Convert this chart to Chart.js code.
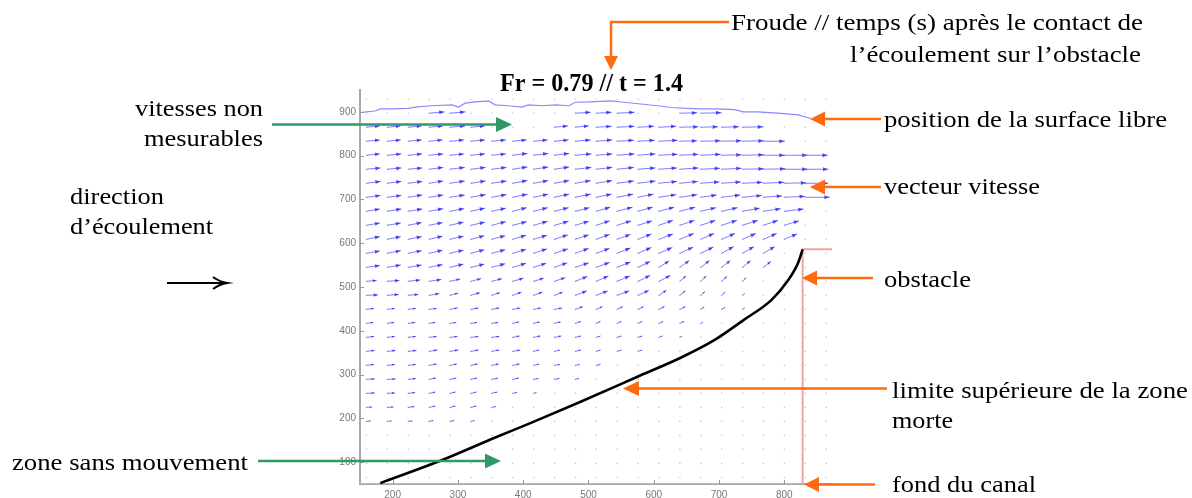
<!DOCTYPE html>
<html><head><meta charset="utf-8">
<script src="https://cdn.jsdelivr.net/npm/chart.js@4/dist/chart.umd.min.js"></script>
<style>html,body{margin:0;padding:0;background:#fff;}canvas{display:block;}</style>
</head><body>
<canvas id="c" width="1192" height="498"></canvas>
<script>
// ---- axis ticks ----
const xTicks = [200, 300, 400, 500, 600, 700, 800];
const yTicks = [100, 200, 300, 400, 500, 600, 700, 800, 900];

// ---- measurement grid (PIV) ----
const colsX = [160, 192, 224, 256, 288, 320, 352, 384, 416, 448, 480, 512, 544, 576, 608, 640, 672, 704, 736, 768, 800, 832, 864];
const rowsY = [897, 865, 833, 801, 769, 737, 705, 673, 641, 609, 577, 545, 513, 481, 449, 417, 385, 353, 321, 289, 257, 225, 193, 161, 129, 97, 65];
const dotX = [128, 160, 192, 224, 256, 288, 320, 352, 384, 416, 448, 480, 512, 544, 576, 608, 640, 672, 704, 736, 768, 800, 832, 864];
const dotY = [961, 929, 897, 865, 833, 801, 769, 737, 705, 673, 641, 609, 577, 545, 513, 481, 449, 417, 385, 353, 321, 289, 257, 225, 193, 161, 129, 97, 65];

// velocity components (display units), one row per rowsY entry
const uRows = [
 [0,0,0,23,23,0,0,0,0,0,23,23,26,0,0,26,31,0,0,0,0,0,0],
 [20,20,20,21,23,21,0,0,0,20,20,23,26,24,26,28,26,26,31,0,0,0,0],
 [20,20,20,20,21,21,21,21,21,21,23,24,25,25,28,26,30,30,32,32,0,0,0],
 [20,21,21,21,21,21,21,22,22,22,24,24,26,26,28,28,30,30,32,32,35,34,0],
 [21,21,21,21,22,22,22,22,22,22,24,24,25,26,27,28,29,30,32,33,35,35,0],
 [21,21,21,21,22,22,22,22,22,22,23,24,25,26,27,27,28,29,30,31,33,35,0],
 [21,21,21,21,22,22,22,22,22,22,23,23,24,23,26,26,24,28,29,28,31,37,0],
 [20,21,21,21,21,21,21,21,21,21,21,21,23,22,23,23,23,24,26,26,29,0,0],
 [20,20,20,20,20,21,21,21,21,21,20,20,21,21,21,22,22,23,23,22,22,0,0],
 [20,20,20,20,20,20,20,20,20,20,20,20,20,20,21,21,20,20,20,20,19,0,0],
 [20,20,20,20,20,20,20,20,20,20,20,20,20,20,20,20,19,18,17,17,0,0,0],
 [20,20,20,20,20,20,20,20,19,19,20,20,20,18,15,14,13,13,12,11,0,0,0],
 [15,18,18,18,15,15,15,16,15,16,18,18,19,18,17,9,8,8,5,0,0,0,0],
 [17,17,15,15,12,13,12,13,13,12,17,17,18,16,11,8,6,5,3,0,0,0,0],
 [11,11,11,11,11,11,11,11,11,11,11,9,8,8,8,8,5,5,3,0,0,0,0],
 [10,10,10,9,9,9,9,9,9,9,8,6,6,6,6,6,3,0,0,0,0,0,0],
 [11,11,11,11,11,11,11,10,10,10,8,6,6,6,5,3,0,0,0,0,0,0,0],
 [12,12,12,12,12,11,11,11,8,8,8,6,6,6,0,0,0,0,0,0,0,0,0],
 [11,11,11,11,10,10,10,10,8,8,6,6,0,0,0,0,0,0,0,0,0,0,0],
 [12,12,11,10,9,9,9,9,7,7,5,0,0,0,0,0,0,0,0,0,0,0,0],
 [12,11,10,9,8,8,8,6,4,0,0,0,0,0,0,0,0,0,0,0,0,0,0],
 [8,9,9,9,8,8,6,0,0,0,0,0,0,0,0,0,0,0,0,0,0,0,0],
 [6,6,6,6,6,5,0,0,0,0,0,0,0,0,0,0,0,0,0,0,0,0,0],
 [0,0,0,0,0,0,0,0,0,0,0,0,0,0,0,0,0,0,0,0,0,0,0],
 [0,0,0,0,0,0,0,0,0,0,0,0,0,0,0,0,0,0,0,0,0,0,0],
 [0,0,0,0,0,0,0,0,0,0,0,0,0,0,0,0,0,0,0,0,0,0,0],
 [0,0,0,0,0,0,0,0,0,0,0,0,0,0,0,0,0,0,0,0,0,0,0]
];
const vRows = [
 [0,0,0,3,3,0,0,0,0,0,2,2,2,0,0,1,1,0,0,0,0,0,0],
 [3,3,3,3,3,3,0,0,0,3,3,2,2,2,2,1,1,1,1,0,0,0,0],
 [3,3,3,3,3,3,3,3,3,3,3,3,2,2,2,1,1,1,1,0,0,0,0],
 [3,3,3,3,3,3,3,4,4,4,3,3,3,3,2,2,2,1,1,0,0,0,0],
 [3,3,3,4,4,4,4,5,5,5,4,4,4,3,3,3,2,2,1,1,0,0,0],
 [4,4,4,5,5,5,5,6,6,6,6,6,5,5,4,4,3,3,2,2,1,0,0],
 [4,4,5,5,5,6,6,7,7,7,7,7,7,7,6,6,5,5,4,3,2,0,0],
 [5,5,5,6,6,7,7,8,8,8,8,9,9,9,9,9,8,8,7,6,5,0,0],
 [5,5,6,6,7,7,8,8,9,9,9,10,10,10,11,11,11,11,11,11,10,0,0],
 [6,6,6,7,7,8,8,9,9,10,10,11,11,12,12,13,13,13,13,13,12,0,0],
 [5,6,6,7,7,8,8,9,10,10,11,11,12,13,13,14,14,15,15,15,0,0,0],
 [4,5,5,6,7,7,8,9,9,10,10,11,12,13,14,15,15,15,15,13,0,0,0],
 [2,2,3,4,5,6,6,7,7,8,11,12,12,13,13,12,12,11,8,0,0,0,0],
 [1,2,2,4,5,6,6,7,7,7,10,10,10,11,11,10,8,7,4,0,0,0,0],
 [2,2,2,2,3,3,3,3,3,3,6,6,6,6,6,6,5,4,3,0,0,0,0],
 [2,2,2,2,2,2,2,3,3,3,4,4,4,4,4,4,2,0,0,0,0,0,0],
 [2,2,2,2,2,2,2,3,3,3,3,3,3,3,3,2,0,0,0,0,0,0,0],
 [2,2,2,3,3,3,3,3,3,3,3,3,3,3,0,0,0,0,0,0,0,0,0],
 [2,2,2,3,3,3,3,3,3,2,2,2,0,0,0,0,0,0,0,0,0,0,0],
 [1,1,2,3,3,3,3,3,2,2,2,0,0,0,0,0,0,0,0,0,0,0,0],
 [1,1,2,3,3,3,3,2,2,0,0,0,0,0,0,0,0,0,0,0,0,0,0],
 [1,1,2,3,3,3,2,0,0,0,0,0,0,0,0,0,0,0,0,0,0,0,0],
 [1,1,1,2,2,2,0,0,0,0,0,0,0,0,0,0,0,0,0,0,0,0,0],
 [0,0,0,0,0,0,0,0,0,0,0,0,0,0,0,0,0,0,0,0,0,0,0],
 [0,0,0,0,0,0,0,0,0,0,0,0,0,0,0,0,0,0,0,0,0,0,0],
 [0,0,0,0,0,0,0,0,0,0,0,0,0,0,0,0,0,0,0,0,0,0,0],
 [0,0,0,0,0,0,0,0,0,0,0,0,0,0,0,0,0,0,0,0,0,0,0]
];

// ---- free surface ----
const surfaceX = [153, 173, 181, 199, 224, 235, 260, 291, 301, 311, 327, 347, 357, 377, 398, 408, 429, 450, 470, 480, 503, 534, 554, 580, 606, 626, 652, 673, 698, 723, 738, 759, 790, 821, 841];
const surfaceY = [899, 902, 907, 907, 908, 911, 914, 916, 911, 920, 923, 925, 916, 914, 911, 916, 914, 916, 914, 922, 923, 925, 922, 918, 914, 910, 908, 907, 907, 905, 900, 900, 897, 893, 885];

// ---- upper limit of the dead zone ----
const limitX = [181, 273, 360, 411, 488, 575, 642, 692, 738, 780, 806, 821, 828];
const limitY = [52, 103, 158, 189, 238, 295, 339, 378, 425, 470, 516, 555, 586];

// ---- obstacle and channel bottom ----
const obstacleX = [150, 828, 828, 873];
const obstacleY = [50, 50, 586, 586];

const titleText = 'Fr = 0.79 // t = 1.4';

const toPts = (xs, ys) => xs.map((v, i) => ({x: v, y: ys[i]}));
const dotPts = [];
dotY.forEach(yv => dotX.forEach(xv => dotPts.push({x: xv, y: yv})));

// ---- plugins ----
const quiverPlugin = {
  id: 'quiver',
  beforeDatasetsDraw(chart) {
    const {ctx} = chart; const xs = chart.scales.x, ys = chart.scales.y;
    ctx.save();
    ctx.lineWidth = 1;
    ctx.lineCap = 'round';
    for (let j = 0; j < rowsY.length; j++) {
      for (let i = 0; i < colsX.length; i++) {
        const u = uRows[j][i], v = vRows[j][i];
        if (!u && !v) continue;
        const x0 = xs.getPixelForValue(colsX[i]), y0 = ys.getPixelForValue(rowsY[j]);
        const x1 = xs.getPixelForValue(colsX[i] + u), y1 = ys.getPixelForValue(rowsY[j] + v);
        const a = Math.atan2(y1 - y0, x1 - x0), L = Math.hypot(x1 - x0, y1 - y0);
        const h = Math.min(5, 0.35 * L), w = Math.min(2, 0.15 * L);
        const bx = x1 - h * Math.cos(a), by = y1 - h * Math.sin(a);
        ctx.strokeStyle = 'rgba(70,70,255,0.7)';
        ctx.beginPath(); ctx.moveTo(x0, y0); ctx.lineTo(x1, y1); ctx.stroke();
        ctx.fillStyle = 'rgba(40,40,240,0.8)';
        ctx.beginPath();
        ctx.moveTo(x1, y1);
        ctx.lineTo(bx + w * Math.sin(a), by - w * Math.cos(a));
        ctx.lineTo(bx - w * Math.sin(a), by + w * Math.cos(a));
        ctx.closePath(); ctx.fill();
      }
    }
    ctx.restore();
  }
};

function fitText(ctx, str, x, base, width, size, bold) {
  ctx.font = (bold ? 'bold ' : '') + size + 'px "Liberation Serif", "Times New Roman", serif';
  const w = ctx.measureText(str).width;
  ctx.save();
  ctx.translate(x, base);
  ctx.scale(width / w, 1);
  ctx.textBaseline = 'alphabetic';
  ctx.textAlign = 'left';
  ctx.fillStyle = '#000';
  ctx.fillText(str, 0, 0);
  ctx.restore();
}
function arrow(ctx, pts, color, lw, hl, hw) {
  const n = pts.length, tip = pts[n - 1], prev = pts[n - 2];
  const a = Math.atan2(tip[1] - prev[1], tip[0] - prev[0]);
  const bx = tip[0] - hl * Math.cos(a), by = tip[1] - hl * Math.sin(a);
  ctx.save();
  ctx.strokeStyle = color; ctx.fillStyle = color; ctx.lineWidth = lw;
  ctx.beginPath(); ctx.moveTo(pts[0][0], pts[0][1]);
  for (let k = 1; k < n - 1; k++) ctx.lineTo(pts[k][0], pts[k][1]);
  ctx.lineTo(bx, by); ctx.stroke();
  ctx.beginPath();
  ctx.moveTo(tip[0], tip[1]);
  ctx.lineTo(bx + hw * Math.sin(a), by - hw * Math.cos(a));
  ctx.lineTo(bx - hw * Math.sin(a), by + hw * Math.cos(a));
  ctx.closePath(); ctx.fill();
  ctx.restore();
}

const annotPlugin = {
  id: 'annot',
  afterDraw(chart) {
    const {ctx} = chart; const xs = chart.scales.x, ys = chart.scales.y;
    const ca = chart.chartArea;
    // inward tick marks
    ctx.save();
    ctx.strokeStyle = '#999'; ctx.lineWidth = 1;
    yTicks.forEach(t => { const p = Math.round(ys.getPixelForValue(t)) + 0.5; ctx.beginPath(); ctx.moveTo(ca.left, p); ctx.lineTo(ca.left + 4, p); ctx.stroke(); });
    xTicks.forEach(t => { const p = Math.round(xs.getPixelForValue(t)) + 0.5; ctx.beginPath(); ctx.moveTo(p, ca.bottom); ctx.lineTo(p, ca.bottom - 4); ctx.stroke(); });
    ctx.restore();

    // title
    fitText(ctx, titleText, 500, 91, 183, 25, true);

    // texts
    fitText(ctx, 'Froude // temps (s) après le contact de', 731, 30, 412, 23);
    fitText(ctx, 'l\u2019écoulement sur l\u2019obstacle', 850, 62, 291, 23);
    fitText(ctx, 'vitesses non', 135, 116, 128, 23);
    fitText(ctx, 'mesurables', 144, 146, 119, 23);
    fitText(ctx, 'direction', 70, 204, 94, 23);
    fitText(ctx, 'd\u2019écoulement', 70, 234, 143, 23);
    fitText(ctx, 'position de la surface libre', 884, 127, 283, 23);
    fitText(ctx, 'vecteur vitesse', 884, 194, 156, 23);
    fitText(ctx, 'obstacle', 884, 287, 87, 23);
    fitText(ctx, 'limite supérieure de la zone', 892, 398, 296, 23);
    fitText(ctx, 'morte', 892, 428, 61, 23);
    fitText(ctx, 'fond du canal', 892, 492, 144, 23);
    fitText(ctx, 'zone sans mouvement', 12, 470, 236, 23);

    const OR = '#ff6a10', GR = '#2f9a66';
    arrow(ctx, [[729, 22], [611, 22], [611, 70]], OR, 2.5, 14, 7);
    arrow(ctx, [[881, 119], [810, 119]], OR, 2.5, 15, 7.5);
    arrow(ctx, [[881, 187], [810, 187]], OR, 2.5, 15, 7.5);
    arrow(ctx, [[873, 278], [802, 278]], OR, 2.5, 15, 7.5);
    arrow(ctx, [[887, 388.5], [623, 388.5]], OR, 2.5, 16, 7.5);
    arrow(ctx, [[875, 484.5], [804, 484.5]], OR, 2.5, 15, 7.5);
    arrow(ctx, [[272, 124.5], [512, 124.5]], GR, 2.5, 16, 7.5);
    arrow(ctx, [[258, 461], [501, 461]], GR, 2.5, 16, 7.5);

    // black flow-direction arrow
    ctx.save();
    ctx.strokeStyle = '#000'; ctx.lineWidth = 2;
    ctx.beginPath(); ctx.moveTo(167, 283); ctx.lineTo(225, 283); ctx.stroke();
    ctx.beginPath(); ctx.moveTo(213, 277); ctx.quadraticCurveTo(220, 282, 227, 283); ctx.quadraticCurveTo(220, 284, 213, 289); ctx.stroke();
    ctx.restore();
  }
};

new Chart(document.getElementById('c'), {
  type: 'scatter',
  data: {
    datasets: [
      {label: 'grille', data: dotPts, pointRadius: 0.8, pointBorderWidth: 0, pointBackgroundColor: 'rgba(120,120,255,0.45)', clip: false, order: 5},
      {label: 'surface libre', data: toPts(surfaceX, surfaceY), showLine: true, borderColor: '#8a8aff', borderWidth: 1.2, pointRadius: 0, order: 3},
      {label: 'obstacle', data: toPts(obstacleX, obstacleY), showLine: true, borderColor: '#f4a4a4', borderWidth: 2, pointRadius: 0, order: 2},
      {label: 'zone morte', data: toPts(limitX, limitY), showLine: true, cubicInterpolationMode: 'monotone', borderColor: '#000', borderWidth: 2.6, pointRadius: 0, order: 1}
    ]
  },
  options: {
    responsive: false, animation: false, devicePixelRatio: 1,
    layout: {padding: {left: 0, top: 90, right: 360, bottom: 0}},
    plugins: {legend: {display: false}, title: {display: false}, tooltip: {enabled: false}},
    scales: {
      x: {
        type: 'linear', min: 150, max: 873,
        grid: {display: false, drawTicks: false},
        border: {display: true, color: '#a8a8a8', width: 2},
        ticks: {color: '#777', font: {family: '"Liberation Sans", Arial', size: 10}, padding: 5},
        afterBuildTicks: s => { s.ticks = xTicks.map(v => ({value: v})); },
        afterFit: s => { s.height = 14; }
      },
      y: {
        type: 'linear', min: 50, max: 950,
        grid: {display: false, drawTicks: false},
        border: {display: true, color: '#a8a8a8', width: 2},
        ticks: {color: '#777', font: {family: '"Liberation Sans", Arial', size: 10}, padding: 4},
        afterBuildTicks: s => { s.ticks = yTicks.map(v => ({value: v})); },
        afterFit: s => { s.width = 360; }
      }
    }
  },
  plugins: [quiverPlugin, annotPlugin]
});
</script>
</body></html>
